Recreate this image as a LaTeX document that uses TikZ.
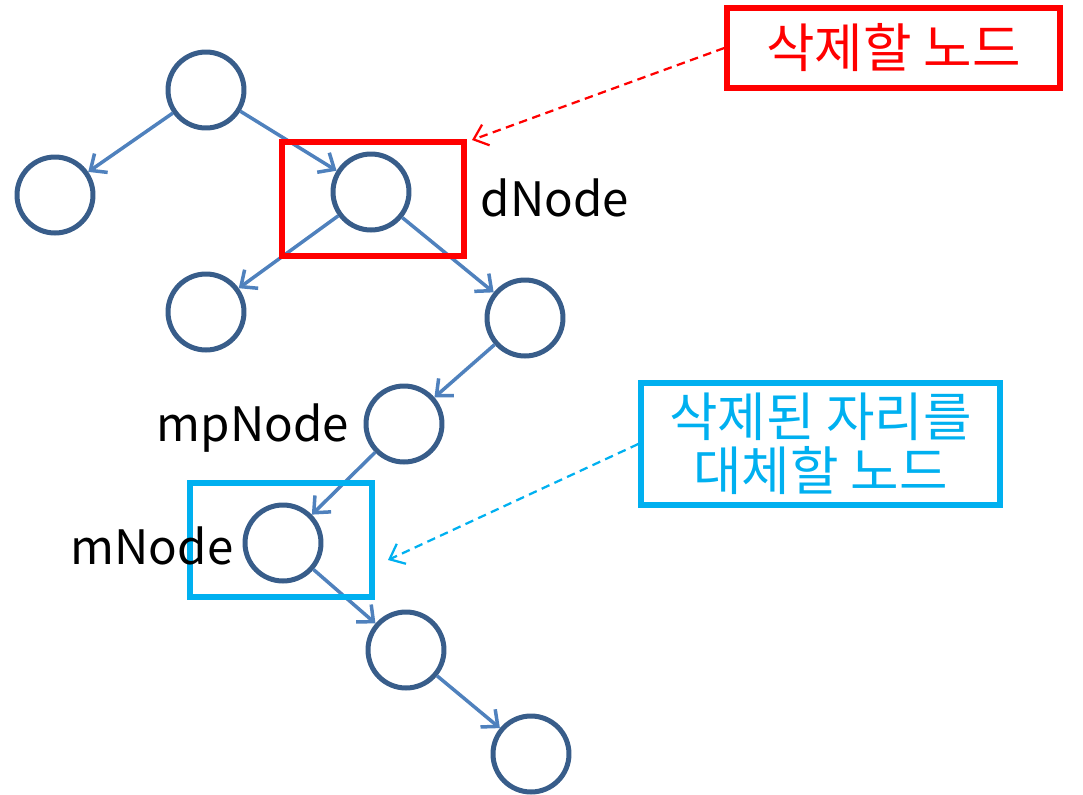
\documentclass[tikz,border=0pt]{standalone}
\usepackage{fontspec}
\usepackage{xcolor}
\usetikzlibrary{arrows.meta}
\setmainfont{Noto Sans CJK KR}
\definecolor{edgeBlue}{HTML}{4F81BD}
\definecolor{ringBlue}{HTML}{385D8A}
\definecolor{markRed}{HTML}{FF0000}
\definecolor{markCyan}{HTML}{00B0F0}
\tikzset{
  treeNode/.style={circle, draw=ringBlue, line width=0.1cm, minimum size=1.52cm, inner sep=0pt},
  treeEdge/.style={draw=edgeBlue, line width=0.07cm, -{Straight Barb[length=0.26cm, width=0.46cm, line width=0.07cm]}},
  markBox/.style={draw, line width=0.11cm, inner sep=0pt},
  noteBox/.style={draw, line width=0.11cm, inner sep=0pt, font=\fontsize{30}{30.5}\selectfont, align=center},
  noteArrow/.style={line width=0.045cm, dash pattern=on 0.17cm off 0.11cm, -{Straight Barb[length=0.26cm, width=0.44cm, line width=0.045cm]}},
  nameText/.style={font=\fontsize{27}{30}\selectfont, inner sep=0pt}
}
\begin{document}
\begin{tikzpicture}[x=0.02cm, y=-0.02cm]
\useasboundingbox (0,0) rectangle (1083,795);
\node[treeNode] (root) at (206,90) {};
\node[treeNode] (rootL) at (55,195) {};
\node[treeNode] (del) at (371,192) {};
\node[treeNode] (delL) at (206,312) {};
\node[treeNode] (delR) at (525,318) {};
\node[treeNode] (mp) at (404,424) {};
\node[treeNode] (m) at (283,543) {};
\node[treeNode] (mR) at (406,650) {};
\node[treeNode] (mRR) at (531,754) {};
\draw[treeEdge] (root) -- (rootL);
\draw[treeEdge] (root) -- (del);
\draw[treeEdge] (del) -- (delL);
\draw[treeEdge] (del) -- (delR);
\draw[treeEdge] (delR) -- (mp);
\draw[treeEdge] (mp) -- (m);
\draw[treeEdge] (m) -- (mR);
\draw[treeEdge] (mR) -- (mRR);
\node[markBox, draw=markRed, minimum width=3.64cm, minimum height=2.28cm] (delBox) at (373,199) {};
\node[markBox, draw=markCyan, minimum width=3.64cm, minimum height=2.28cm] (repBox) at (281,540) {};
\node[nameText] (dName) at (555,198) {dNode};
\node[nameText] (mpName) at (253,428) {mpNode};
\node[nameText] (mName) at (152,546) {mNode};
\node[noteBox, draw=markRed, text=markRed, minimum width=6.66cm, minimum height=1.6cm] (delNote) at (893.5,48) {삭제할 노드};
\node[noteBox, draw=markCyan, text=markCyan, minimum width=7.18cm, minimum height=2.44cm] (repNote) at (820.5,444) {삭제된 자리를\\대체할 노드};
\coordinate (delTip) at (472,140);
\coordinate (repTip) at (388,560);
\draw[noteArrow, markRed] (delNote.west) -- (delTip);
\draw[noteArrow, markCyan] (repNote.west) -- (repTip);
\end{tikzpicture}
\end{document}
